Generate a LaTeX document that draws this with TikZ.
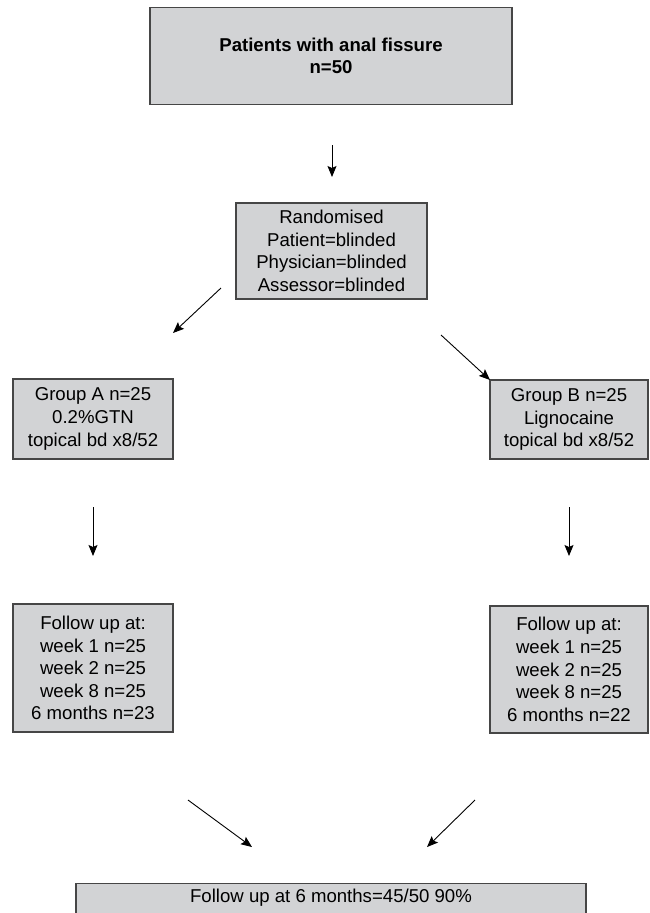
\documentclass[tikz,border=0pt]{standalone}
\usepackage{fontspec}
\setmainfont{Liberation Sans}
\usetikzlibrary{arrows.meta}
\definecolor{boxfill}{RGB}{210,211,213}
\definecolor{boxline}{RGB}{70,70,70}
\tikzset{
  box/.style={draw=boxline, fill=boxfill, line width=1.1pt, align=center, inner sep=0pt,
    font=\fontsize{18.6}{22.6}\selectfont},
  arr/.style={line width=0.9pt, -{Stealth[length=11pt,width=9pt,inset=2pt]}}
}
\begin{document}
\begin{tikzpicture}[x=1pt,y=-1pt]
\useasboundingbox (0,0) rectangle (649,913);
\clip (0,0) rectangle (649,913);
\node[box, minimum width=362pt, minimum height=97pt, font=\fontsize{18.6}{22.6}\selectfont\bfseries] (top) at (331,56) {Patients with anal fissure\\n=50};
\node[box, minimum width=191pt, minimum height=96pt] (rand) at (331.5,251) {Randomised\\Patient=blinded\\Physician=blinded\\Assessor=blinded};
\node[box, minimum width=160pt, minimum height=80pt] (ga) at (93,419) {Group A n=25\\0.2\%GTN\\topical bd x8/52};
\node[box, minimum width=158pt, minimum height=79pt] (gb) at (569,419.5) {Group B n=25\\Lignocaine\\topical bd x8/52};
\node[box, minimum width=160pt, minimum height=128pt] (fa) at (93,668) {Follow up at:\\week 1 n=25\\week 2 n=25\\week 8 n=25\\6 months n=23};
\node[box, minimum width=158pt, minimum height=127pt] (fb) at (569,669.5) {Follow up at:\\week 1 n=25\\week 2 n=25\\week 8 n=25\\6 months n=22};
\node[box, minimum width=510pt, minimum height=60pt, anchor=north, text depth=0pt] (bot) at (331,883) {};
\node[font=\fontsize{18.6}{22.6}\selectfont, anchor=center] (bottxt) at (331,898) {Follow up at 6 months=45/50 90\%};
% arrow end points
\coordinate (a1s) at (332,145); \coordinate (a1e) at (332,177);
\coordinate (a2s) at (221,288); \coordinate (a2e) at (173,333);
\coordinate (a3s) at (441,335); \coordinate (a3e) at (490,380);
\coordinate (a4s) at (93,507);  \coordinate (a4e) at (93,556);
\coordinate (a5s) at (569,507); \coordinate (a5e) at (569,556);
\coordinate (a6s) at (188,800); \coordinate (a6e) at (252,847);
\coordinate (a7s) at (475,800); \coordinate (a7e) at (427,847);
\draw[arr] (a1s) -- (a1e);
\draw[arr] (a2s) -- (a2e);
\draw[arr] (a3s) -- (a3e);
\draw[arr] (a4s) -- (a4e);
\draw[arr] (a5s) -- (a5e);
\draw[arr] (a6s) -- (a6e);
\draw[arr] (a7s) -- (a7e);
\end{tikzpicture}
\end{document}
